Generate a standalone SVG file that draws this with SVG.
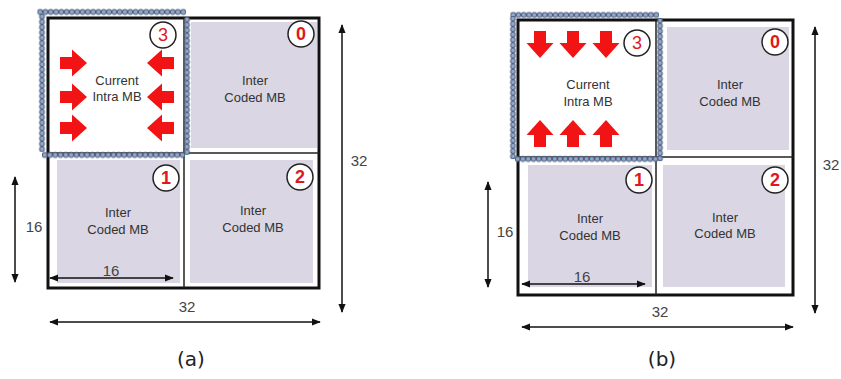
<svg xmlns="http://www.w3.org/2000/svg" width="841" height="379" viewBox="0 0 841 379">
<style>
.box{fill:none;stroke:#111;stroke-width:3}
.div{stroke:#222;stroke-width:1.5}
.gray{fill:#dad6e3}
.t{font-family:"Liberation Sans",Arial,sans-serif;font-size:13px;fill:#333;text-anchor:middle}
.dim{font-family:"Liberation Sans",Arial,sans-serif;font-size:15px;fill:#444;text-anchor:middle}
.cap{font-family:"DejaVu Sans","Liberation Sans",sans-serif;font-size:20px;fill:#222;text-anchor:middle}
.nc{fill:#fff;stroke:#222;stroke-width:1.5}
.n{font-family:"Liberation Sans",Arial,sans-serif;font-size:18px;fill:#e01818;text-anchor:middle}
.dc{fill:#93a8c8;stroke:#4c5d80;stroke-width:1}
.dl{stroke:#111;stroke-width:1.5;fill:none;marker-start:url(#ah);marker-end:url(#ah)}
.ra{fill:#f21414}
</style>
<defs>
<marker id="ah" viewBox="0 0 10 10" refX="9" refY="5" markerWidth="6" markerHeight="6" orient="auto-start-reverse" markerUnits="strokeWidth">
<path d="M0,1 L10,5 L0,9 Z" fill="#111"/>
</marker>
<pattern id="dh" patternUnits="userSpaceOnUse" width="5.3" height="7"><circle class="dc" cx="2.65" cy="3.5" r="2.4"/></pattern>
<pattern id="dv" patternUnits="userSpaceOnUse" width="7" height="5.3"><circle class="dc" cx="3.5" cy="2.65" r="2.4"/></pattern>
<path id="arr" d="M0,-6 H12 V-13.5 L27,0 L12,13.5 V6 H0 Z"/>
</defs>

<!-- Panel (a) -->
<g id="panel-a">
<g id="a-q0"><rect class="gray" x="191" y="22" width="126" height="126"/>
<text class="t" x="255" y="85">Inter</text><text class="t" x="255" y="102">Coded MB</text>
<circle class="nc" cx="301" cy="34" r="13"/><text class="n" x="301" y="40" font-weight="bold">0</text></g>
<g id="a-q1"><rect class="gray" x="57" y="160" width="123" height="123"/>
<text class="t" x="118" y="217">Inter</text><text class="t" x="118" y="234">Coded MB</text>
<circle class="nc" cx="166" cy="178" r="13"/><text class="n" x="166" y="184" font-weight="bold">1</text></g>
<g id="a-q2"><rect class="gray" x="190" y="160" width="123" height="123"/>
<text class="t" x="253" y="215">Inter</text><text class="t" x="253" y="232">Coded MB</text>
<circle class="nc" cx="300" cy="177" r="13"/><text class="n" x="300" y="183" font-weight="bold">2</text></g>
<rect class="box" x="48" y="18" width="271" height="270"/>
<line class="div" x1="184" y1="18" x2="184" y2="288"/>
<line class="div" x1="48" y1="153" x2="319" y2="153"/>
<g id="a-q3">
<rect fill="url(#dh)" transform="translate(37.5,8.5)" width="148.4" height="7"/>
<rect fill="url(#dv)" transform="translate(38.5,14)" width="7" height="137.8"/>
<rect fill="url(#dv)" transform="translate(183.5,17)" width="7" height="137.8"/>
<rect fill="url(#dh)" transform="translate(42,151.5)" width="143.1" height="7"/>
<text class="t" x="117" y="85">Current</text><text class="t" x="117" y="101">Intra MB</text>
<circle class="nc" cx="163" cy="35" r="13"/><text class="n" x="163" y="41">3</text>
<use href="#arr" class="ra" transform="translate(60,63)"/>
<use href="#arr" class="ra" transform="translate(60,97)"/>
<use href="#arr" class="ra" transform="translate(60,128)"/>
<use href="#arr" class="ra" transform="translate(174,63) scale(-1,1)"/>
<use href="#arr" class="ra" transform="translate(174,97) scale(-1,1)"/>
<use href="#arr" class="ra" transform="translate(174,128) scale(-1,1)"/>
</g>
</g>

<!-- Panel (b) -->
<g id="panel-b">
<g id="b-q0"><rect class="gray" x="667" y="27" width="122" height="123"/>
<text class="t" x="730" y="89">Inter</text><text class="t" x="730" y="106">Coded MB</text>
<circle class="nc" cx="775" cy="42" r="13"/><text class="n" x="775" y="48" font-weight="bold">0</text></g>
<g id="b-q1"><rect class="gray" x="528" y="165" width="124" height="122"/>
<text class="t" x="590" y="223">Inter</text><text class="t" x="590" y="240">Coded MB</text>
<circle class="nc" cx="639" cy="180" r="13"/><text class="n" x="639" y="186" font-weight="bold">1</text></g>
<g id="b-q2"><rect class="gray" x="663" y="165" width="122" height="122"/>
<text class="t" x="725" y="222">Inter</text><text class="t" x="725" y="238">Coded MB</text>
<circle class="nc" cx="775" cy="180" r="13"/><text class="n" x="775" y="186" font-weight="bold">2</text></g>
<rect class="box" x="518" y="20" width="275" height="275"/>
<line class="div" x1="656" y1="20" x2="656" y2="295"/>
<line class="div" x1="518" y1="157" x2="793" y2="157"/>
<g id="b-q3">
<rect fill="url(#dh)" transform="translate(510.5,11.5)" width="148.4" height="7"/>
<rect fill="url(#dv)" transform="translate(509.5,16)" width="7" height="143.1"/>
<rect fill="url(#dv)" transform="translate(656.5,18)" width="7" height="143.1"/>
<rect fill="url(#dh)" transform="translate(515,155.5)" width="143.1" height="7"/>
<text class="t" x="588" y="89">Current</text><text class="t" x="588" y="106">Intra MB</text>
<circle class="nc" cx="637" cy="43" r="13"/><text class="n" x="637" y="49">3</text>
<use href="#arr" class="ra" transform="translate(540,31) rotate(90)"/>
<use href="#arr" class="ra" transform="translate(573,31) rotate(90)"/>
<use href="#arr" class="ra" transform="translate(606,31) rotate(90)"/>
<use href="#arr" class="ra" transform="translate(540,147) rotate(-90)"/>
<use href="#arr" class="ra" transform="translate(573,147) rotate(-90)"/>
<use href="#arr" class="ra" transform="translate(606,147) rotate(-90)"/>
</g>
</g>

<!-- Dimension connectors -->
<g id="dimensions">
<line class="dl" x1="342" y1="25" x2="342" y2="312"/>
<line class="dl" x1="15" y1="177" x2="15" y2="282"/>
<line class="dl" x1="50" y1="278" x2="173" y2="278"/>
<line class="dl" x1="50" y1="322" x2="320" y2="322"/>
<line class="dl" x1="815" y1="27" x2="815" y2="313"/>
<line class="dl" x1="488" y1="182" x2="488" y2="287"/>
<line class="dl" x1="522" y1="284" x2="645" y2="284"/>
<line class="dl" x1="522" y1="327" x2="793" y2="327"/>
</g>
<g id="labels">
<text class="dim" x="359" y="166">32</text>
<text class="dim" x="34" y="232">16</text>
<text class="dim" x="111" y="276">16</text>
<text class="dim" x="187" y="312">32</text>
<text class="dim" x="831" y="170">32</text>
<text class="dim" x="505" y="237">16</text>
<text class="dim" x="582" y="282">16</text>
<text class="dim" x="660" y="317">32</text>
<text class="cap" x="191" y="366">(a)</text>
<text class="cap" x="662" y="366">(b)</text>
</g>
</svg>
